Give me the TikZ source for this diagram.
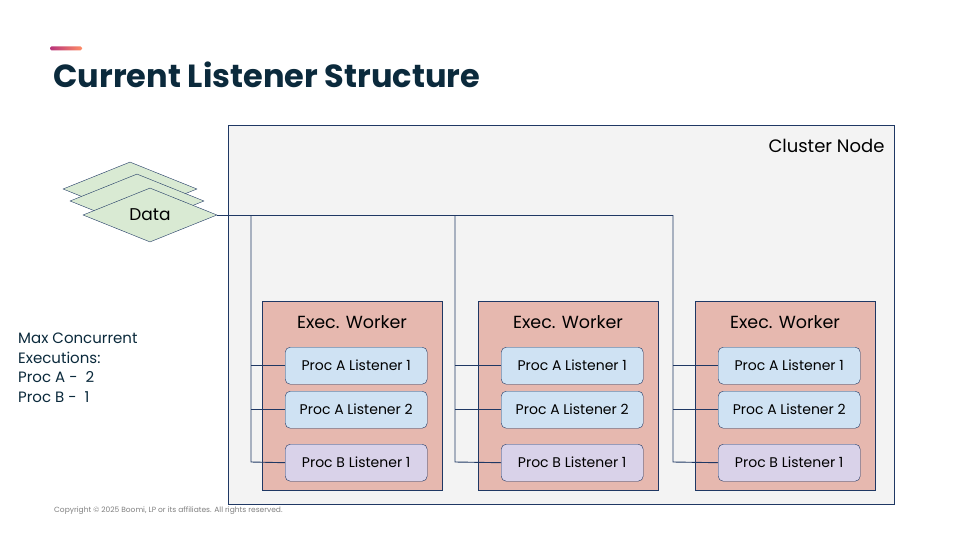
\documentclass[tikz,border=0pt]{standalone}
\usepackage{fontspec}
\setmainfont{Poppins}
\definecolor{navy}{HTML}{1F3864}
\definecolor{titlec}{HTML}{0B2A3C}
\definecolor{clus}{HTML}{F3F3F3}
\definecolor{dat}{HTML}{D9EAD3}
\definecolor{wrk}{HTML}{E6B8AF}
\definecolor{la}{HTML}{CFE2F3}
\definecolor{lb}{HTML}{D9D2E9}
\usetikzlibrary{shapes.geometric}
\begin{document}
\begin{tikzpicture}[x=1pt,y=-1pt,
  dia/.style={diamond,draw=navy,fill=dat,minimum width=134pt,minimum height=54pt,inner sep=0pt,aspect=2.5,font=\fontsize{17}{19}\selectfont},
  wrk/.style={draw=navy,fill=wrk,minimum width=180pt,minimum height=189pt,anchor=north west,inner sep=0pt},
  lis/.style={draw=navy,rounded corners=5pt,minimum width=142pt,minimum height=37pt,anchor=north west,inner sep=0pt,font=\fontsize{14}{16}\selectfont},
  con/.style={draw=navy,line width=0.9pt}]
\useasboundingbox (0,0) rectangle (960,540);
\fill[white] (0,0) rectangle (960,540);
\shade[left color=violet!70!red!80!white,right color=orange!50!red!60!white,rounded corners=1.5pt] (50,46.5) rectangle (82,50.5);
\node[anchor=west,text=titlec,font=\bfseries\fontsize{32}{36}\selectfont] (title) at (50,75) {Current Listener Structure};
\node[draw=navy,fill=clus,minimum width=666pt,minimum height=379pt,anchor=north west,inner sep=0pt] (cluster) at (228,125) {};
\node[anchor=east,font=\fontsize{18}{20}\selectfont] (cl) at (888,146) {Cluster Node};
\node[dia] (d3) at (130,189) {};
\node[dia] (d2) at (137,201) {};
\node[dia] (d1) at (150,215) {Data};
\foreach \i/\x/\bx in {1/262/251,2/478/455,3/695/673}{
  \node[wrk] (w\i) at (\x,301) {};
  \node[font=\fontsize{17.5}{20}\selectfont] (wt\i) at (\x+90,322) {Exec. Worker};
  \node[lis,fill=la] (a\i) at (\x+23,347) {Proc A Listener 1};
  \node[lis,fill=la] (b\i) at (\x+23,391) {Proc A Listener 2};
  \node[lis,fill=lb] (c\i) at (\x+23,444) {Proc B Listener 1};
  \coordinate (t\i) at (\bx,215);
  \coordinate (e\i) at (\bx,462);
  \draw[con] (t\i) -- (e\i) -- (c\i.west);
  \draw[con] (a\i.west) -- (a\i.west -| t\i);
  \draw[con] (b\i.west) -- (b\i.west -| t\i);
}
\draw[con] (d1.east) -- (t3);
\node[anchor=north west,align=left,font=\fontsize{15}{19.5}\selectfont,text=titlec,inner sep=0pt] (mx) at (18,333) {Max Concurrent\\Executions:\\Proc A -\ \ 2\\Proc B -\ \ 1};
\node[anchor=west,font=\fontsize{7.5}{9}\selectfont,text=gray,inner sep=0pt] (copy) at (54,511) {Copyright © 2025 Boomi, LP or its affiliates. All rights reserved.};
\end{tikzpicture}
\end{document}
